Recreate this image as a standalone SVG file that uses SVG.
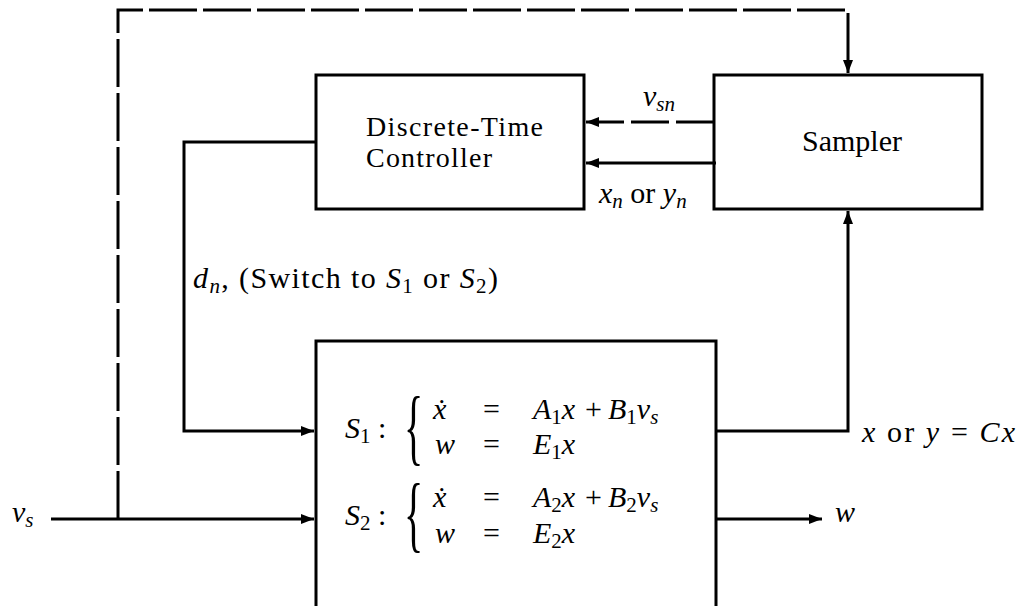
<svg xmlns="http://www.w3.org/2000/svg" width="1021" height="606" viewBox="0 0 1021 606">
<style>
.box{fill:none;stroke:#000;stroke-width:3}
.ln{fill:none;stroke:#000;stroke-width:3}
.dash{stroke-dasharray:48 6}
.dash2{stroke-dasharray:38 7}
text{font-family:"Liberation Serif","DejaVu Serif",serif;font-size:30px;fill:#000}
.it{font-style:italic}
.sub{font-size:21px}
.br{font-size:40px}
.ctl{font-size:28px}
</style>
<defs>
<marker id="ah" markerWidth="14" markerHeight="10" refX="13" refY="5" orient="auto" markerUnits="userSpaceOnUse">
<path d="M0,0 L13,5 L0,10 z" fill="#000"/>
</marker>
</defs>
<rect width="1021" height="606" fill="#fff"/>
<g id="connectors">
<path class="ln dash" d="M118,519 V10 H848 V73" marker-end="url(#ah)"/>
<path class="ln dash2" d="M714,122 H586" marker-end="url(#ah)"/>
<path class="ln" d="M716,163 H586" marker-end="url(#ah)"/>
<path class="ln" d="M316,142 H184 V431 H314" marker-end="url(#ah)"/>
<path class="ln" d="M716,431 H848 V211" marker-end="url(#ah)"/>
<path class="ln" d="M51,519 H314" marker-end="url(#ah)"/>
<path class="ln" d="M716,519 H822" marker-end="url(#ah)"/>
</g>
<g id="controller">
<rect class="box" x="316" y="75" width="268" height="134"/>
<text class="ctl" x="366" y="136" textLength="177">Discrete-Time</text>
<text class="ctl" x="366" y="167" textLength="126">Controller</text>
</g>
<g id="sampler">
<rect class="box" x="714" y="75" width="268" height="134"/>
<text x="802" y="151">Sampler</text>
</g>
<g id="plant">
<path class="box" d="M316,620 V341 H716 V620"/>
<text x="345" y="438"><tspan class="it">S</tspan><tspan class="sub" dy="5">1</tspan><tspan dy="-5"> :</tspan></text>
<text class="br" transform="translate(404,455) scale(1,2.1)">{</text>
<text x="433" y="419" class="it">ẋ</text>
<text x="483" y="419">=</text>
<text x="533" y="419"><tspan class="it">A</tspan><tspan class="sub" dy="5">1</tspan><tspan class="it" dy="-5">x</tspan></text>
<text x="585" y="419">+</text>
<text x="608" y="419"><tspan class="it">B</tspan><tspan class="sub" dy="5">1</tspan><tspan class="it" dy="-5">v</tspan><tspan class="sub it" dy="5">s</tspan></text>
<text x="435" y="454" class="it">w</text>
<text x="483" y="454">=</text>
<text x="533" y="454"><tspan class="it">E</tspan><tspan class="sub" dy="5">1</tspan><tspan class="it" dy="-5">x</tspan></text>
<text x="345" y="525"><tspan class="it">S</tspan><tspan class="sub" dy="5">2</tspan><tspan dy="-5"> :</tspan></text>
<text class="br" transform="translate(404,542) scale(1,2.1)">{</text>
<text x="433" y="507" class="it">ẋ</text>
<text x="483" y="507">=</text>
<text x="533" y="507"><tspan class="it">A</tspan><tspan class="sub" dy="5">2</tspan><tspan class="it" dy="-5">x</tspan></text>
<text x="585" y="507">+</text>
<text x="608" y="507"><tspan class="it">B</tspan><tspan class="sub" dy="5">2</tspan><tspan class="it" dy="-5">v</tspan><tspan class="sub it" dy="5">s</tspan></text>
<text x="435" y="543" class="it">w</text>
<text x="483" y="543">=</text>
<text x="533" y="543"><tspan class="it">E</tspan><tspan class="sub" dy="5">2</tspan><tspan class="it" dy="-5">x</tspan></text>
</g>
<g id="labels">
<text x="643" y="106"><tspan class="it">v</tspan><tspan class="sub it" dy="5">sn</tspan></text>
<text x="599" y="203"><tspan class="it">x</tspan><tspan class="sub it" dy="5">n</tspan><tspan dy="-5"> or </tspan><tspan class="it">y</tspan><tspan class="sub it" dy="5">n</tspan></text>
<text x="193" y="288" textLength="305"><tspan class="it">d</tspan><tspan class="sub it" dy="5">n</tspan><tspan dy="-5">, (Switch to </tspan><tspan class="it">S</tspan><tspan class="sub" dy="5">1</tspan><tspan dy="-5"> or </tspan><tspan class="it">S</tspan><tspan class="sub" dy="5">2</tspan><tspan dy="-5">)</tspan></text>
<text x="862" y="442" textLength="153"><tspan class="it">x</tspan> or <tspan class="it">y</tspan> = <tspan class="it">Cx</tspan></text>
<text x="835" y="522" class="it">w</text>
<text x="12" y="522"><tspan class="it">v</tspan><tspan class="sub it" dy="5">s</tspan></text>
</g>
</svg>
